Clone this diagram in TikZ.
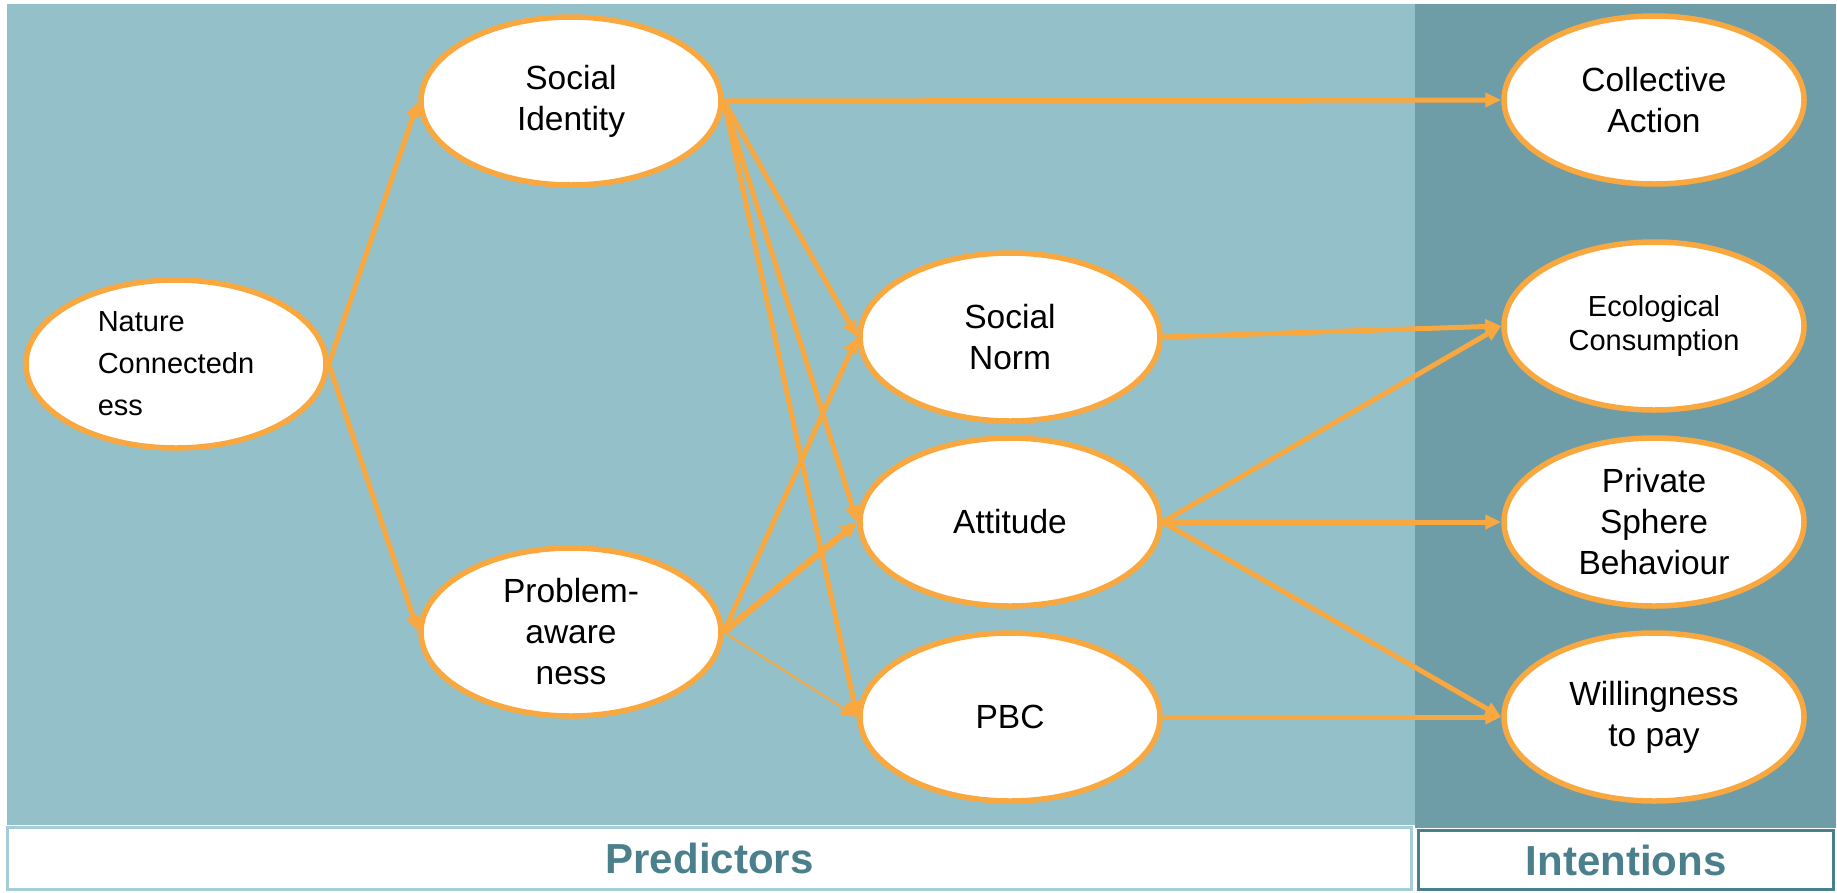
\documentclass[tikz,border=0pt]{standalone}
\usepackage{fontspec}
\setmainfont{Liberation Sans}
\usetikzlibrary{arrows.meta,shapes.geometric}
\definecolor{predpanel}{HTML}{93C0C9}
\definecolor{intpanel}{HTML}{6E9CA7}
\definecolor{orng}{HTML}{F9A83F}
\definecolor{tealtxt}{HTML}{4A7F8C}
\definecolor{predline}{HTML}{A6CED6}

\begin{document}
\begin{tikzpicture}[x=1pt,y=-1pt,
	var/.style={draw=orng, ellipse, fill=white, line width=5.5pt, minimum width=300pt, minimum height=168pt, inner sep=0pt, align=center, font=\fontsize{33.5}{41}\selectfont},
	arr/.style={draw=orng, line width=5pt, -{Triangle[length=16pt,width=14pt]}},
	lbl/.style={fill=white, line width=3pt, inner sep=0pt, text=tealtxt, font=\fontsize{42}{50}\selectfont\bfseries}]
		\useasboundingbox (0,0) rectangle (1837,892);
		\fill[predpanel] (7,4) rectangle (1415,825);
		\fill[intpanel] (1415,4) rectangle (1836,828);
		\node[lbl, draw=predline, minimum width=1404pt, minimum height=62pt] (pred) at (709.5,858.5) {Predictors};
		\node[lbl, draw=tealtxt, minimum width=415pt, minimum height=59pt] (intent) at (1626,860) {Intentions};
		\node[var, align=left, font=\fontsize{29}{42}\selectfont] (nature) at (176,364) {Nature\\Connectedn\\ess};
		\node[var] (ident) at (571,101) {Social\\Identity};
		\node[var] (aware) at (571,632) {Problem-\\aware\\ness};
		\node[var] (norm) at (1010,337) {Social\\Norm};
		\node[var] (attit) at (1010,522) {Attitude};
		\node[var] (pbc) at (1010,717) {PBC};
		\node[var] (collect) at (1654,100) {Collective\\Action};
		\node[var, font=\fontsize{29}{34}\selectfont] (ecol) at (1654,326) {Ecological\\Consumption};
		\node[var] (priv) at (1654,522) {Private\\Sphere\\Behaviour};
		\node[var] (pay) at (1654,717) {Willingness\\to pay};
		\draw[arr] (nature.east) -- (ident.west);
		\draw[arr] (nature.east) -- (aware.west);
		\draw[arr] (ident.east) -- (collect.west);
		\draw[arr] (ident.east) -- (norm.west);
		\draw[arr] (ident.east) -- (attit.west);
		\draw[arr] (ident.east) -- (pbc.west);
		\draw[arr] (aware.east) -- (norm.west);
		\draw[arr, line width=6.5pt] (aware.east) -- (attit.west);
		\draw[arr, line width=2pt] (aware.east) -- (pbc.west);
		\draw[arr] (norm.east) -- (ecol.west);
		\draw[arr] (attit.east) -- (ecol.west);
		\draw[arr] (attit.east) -- (priv.west);
		\draw[arr] (attit.east) -- (pay.west);
		\draw[arr] (pbc.east) -- (pay.west);
\end{tikzpicture}
\end{document}
